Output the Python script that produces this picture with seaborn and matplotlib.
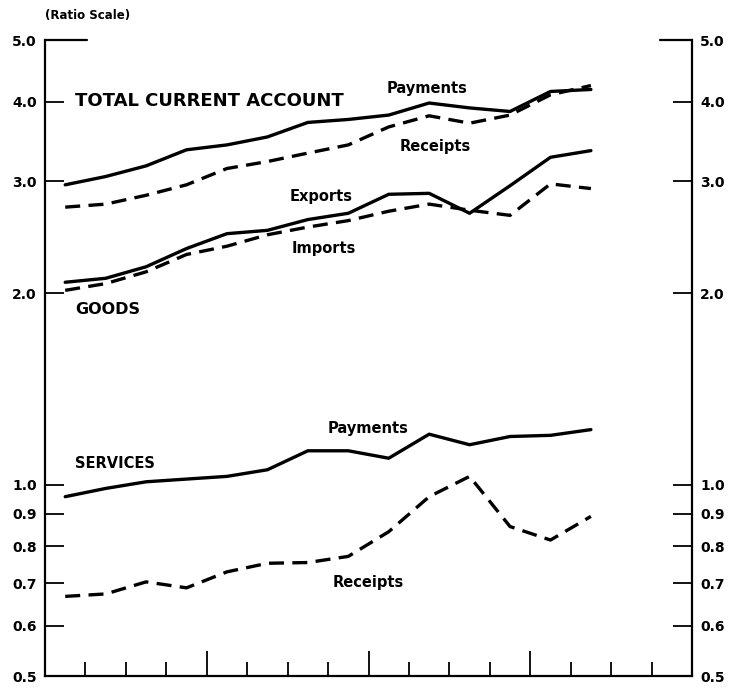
import numpy as np
import pandas as pd
import matplotlib
matplotlib.use("Agg")
import matplotlib.pyplot as plt
import seaborn as sns

# quarterly observations (index of quarter, plotted at mid-quarter)
quarters = list(range(14))

total_payments = [2.96, 3.05, 3.17, 3.36, 3.42, 3.52, 3.71, 3.75, 3.81, 3.98, 3.91, 3.86, 4.15, 4.18]
total_receipts = [2.73, 2.76, 2.85, 2.96, 3.14, 3.22, 3.32, 3.42, 3.65, 3.80, 3.70, 3.81, 4.10, 4.24]
goods_exports = [2.08, 2.11, 2.20, 2.35, 2.48, 2.51, 2.61, 2.67, 2.86, 2.87, 2.67, 2.95, 3.27, 3.35]
goods_imports = [2.02, 2.07, 2.16, 2.30, 2.37, 2.47, 2.54, 2.60, 2.69, 2.76, 2.70, 2.65, 2.97, 2.92]
services_payments = [0.957, 0.986, 1.01, 1.02, 1.03, 1.055, 1.13, 1.13, 1.10, 1.20, 1.155, 1.19, 1.195, 1.22]
services_receipts = [0.667, 0.673, 0.703, 0.688, 0.729, 0.752, 0.754, 0.771, 0.843, 0.957, 1.03, 0.859, 0.818, 0.891]

ytick_vals = [0.5, 0.6, 0.7, 0.8, 0.9, 1.0, 2.0, 3.0, 4.0, 5.0]
ytick_labels = ["0.5", "0.6", "0.7", "0.8", "0.9", "1.0", "2.0", "3.0", "4.0", "5.0"]

sns.set_style("ticks")
plt.rcParams['font.family'] = ['DejaVu Sans']
plt.rcParams['font.weight'] = 'bold'
plt.rcParams['text.color'] = 'black'
plt.rcParams['xtick.color'] = 'black'
plt.rcParams['ytick.color'] = 'black'
plt.rcParams['axes.edgecolor'] = 'black'

series = {
    "tot_pay": (total_payments, "-"),
    "tot_rec": (total_receipts, "--"),
    "goods_exp": (goods_exports, "-"),
    "goods_imp": (goods_imports, "--"),
    "serv_pay": (services_payments, "-"),
    "serv_rec": (services_receipts, "--"),
}

fig = plt.figure(figsize=(7.37, 6.88), dpi=100)
ax = fig.add_axes([45 / 737, 12 / 688, 647 / 737, 636 / 688])

for name, (vals, ls) in series.items():
    df = pd.DataFrame({"q": np.array(quarters) + 0.5, "v": vals})
    sns.lineplot(data=df, x="q", y="v", ax=ax, color="black", linewidth=2.4)
    l = ax.lines[-1]
    l.set_linestyle(ls)
    if ls == "--":
        l.set_dashes((4.5, 2.5))
    l.set_solid_capstyle("round")

ax.set_yscale("log")
ax.set_ylim(0.5, 5.0)
ax.set_xlim(0, 16)
ax.set_xlabel("")
ax.set_ylabel("")

ax.yaxis.set_minor_locator(matplotlib.ticker.NullLocator())
ax.set_yticks(ytick_vals)
ax.set_yticklabels(ytick_labels)
ax.tick_params(axis="y", which="both", direction="in", length=14, width=1.3,
               left=True, right=True, labelleft=True, labelright=True,
               labelsize=10, pad=6, colors="black")

# quarter ticks on the bottom, taller at year boundaries
ax.set_xticks([1, 2, 3, 5, 6, 7, 9, 10, 11, 13, 14, 15])
ax.set_xticks([4, 8, 12], minor=True)
ax.set_xticklabels([])
ax.tick_params(axis="x", which="major", direction="in", length=10, width=1.3, top=False)
ax.tick_params(axis="x", which="minor", direction="in", length=18, width=1.3, top=False)

ax.spines["top"].set_visible(False)
for s in ["left", "right", "bottom"]:
    ax.spines[s].set_linewidth(1.6)
    ax.spines[s].set_color("black")
ax.axhline(5.0, xmin=0, xmax=0.065, color="black", linewidth=1.6, clip_on=False)
ax.axhline(5.0, xmin=0.95, xmax=1.0, color="black", linewidth=1.6, clip_on=False)

for lab in ax.get_yticklabels():
    lab.set_fontweight("bold")

fig.text(45 / 737, 1 - 15 / 688, "(Ratio Scale)", fontsize=8.5, fontweight="bold", va="center")

labels = [
    (75, 101, "TOTAL CURRENT ACCOUNT", 13),
    (387, 88, "Payments", 10.5),
    (400, 147, "Receipts", 10.5),
    (290, 196, "Exports", 10.5),
    (292, 248, "Imports", 10.5),
    (75, 310, "GOODS", 11.5),
    (75, 463, "SERVICES", 10.5),
    (328, 428, "Payments", 10.5),
    (333, 582, "Receipts", 10.5),
]
for px, py, txt, fs in labels:
    fig.text(px / 737, 1 - py / 688, txt, fontsize=fs, fontweight="bold", va="center", ha="left")

fig.savefig("out.png", dpi=100, facecolor="white")
